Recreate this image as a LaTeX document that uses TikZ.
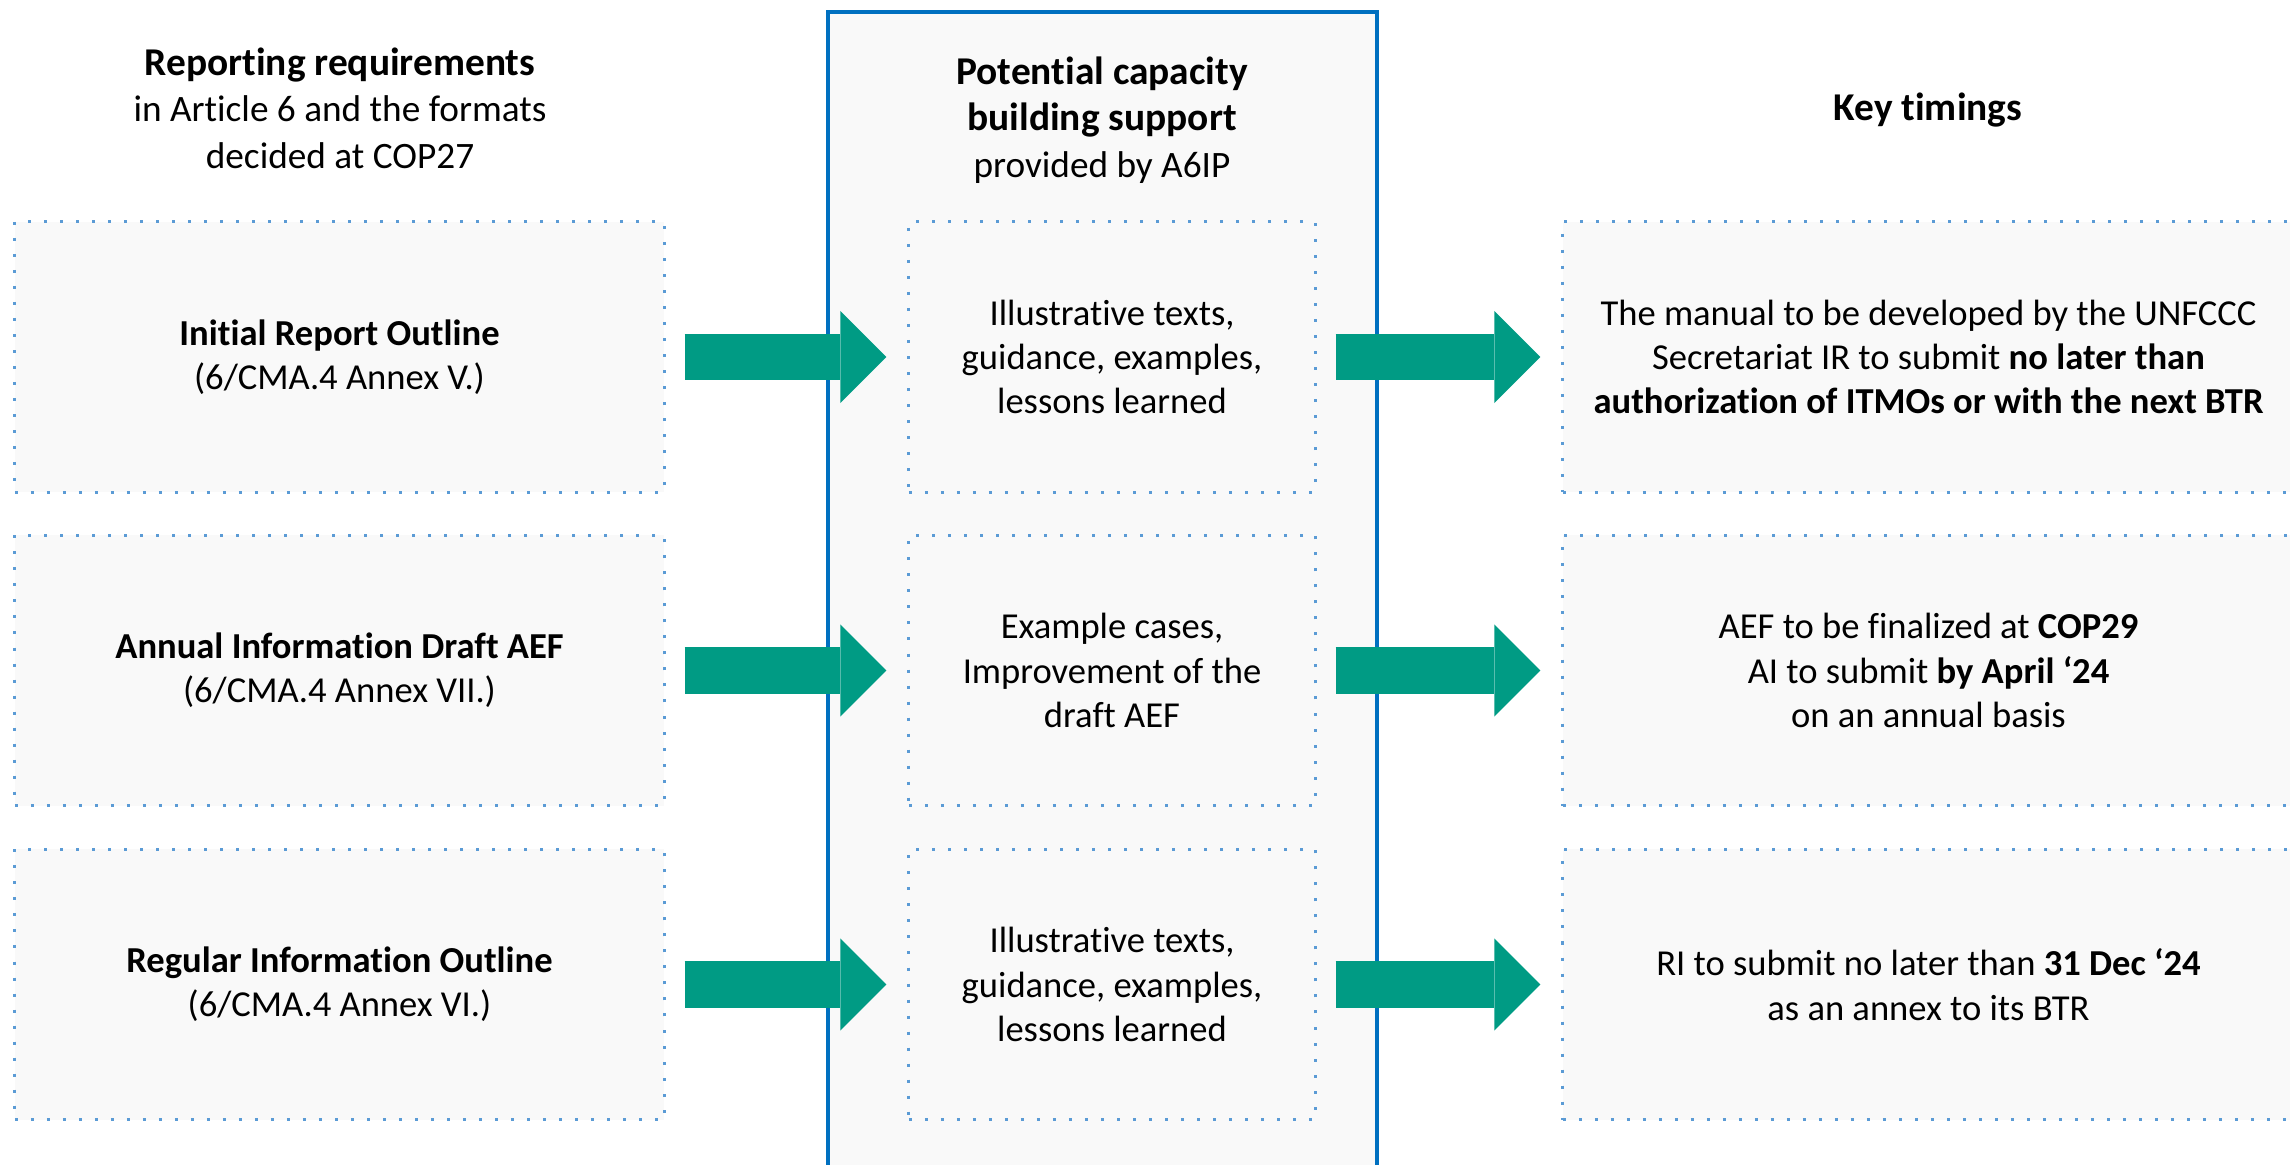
\documentclass[tikz,border=0pt]{standalone}
\usepackage{fontspec}
\setmainfont{Carlito}[Ligatures={TeX,NoCommon}]
\usetikzlibrary{arrows.meta}

\definecolor{dotblue}{HTML}{5B9BD5}
\definecolor{colblue}{HTML}{0070C0}
\definecolor{boxgray}{HTML}{F9F9F9}
\definecolor{arrowgreen}{HTML}{009B84}

\tikzset{
  dotbox/.style={draw=dotblue, fill=boxgray, line width=0.03cm,
    dash pattern=on 0.03cm off 0.13cm, minimum height=2.70cm,
    inner sep=0pt, align=center, font=\fontsize{10.4}{12.6}\selectfont},
  leftbox/.style={dotbox, minimum width=6.49cm},
  midbox/.style={dotbox, minimum width=4.06cm},
  rightbox/.style={dotbox, minimum width=7.31cm},
  header/.style={align=center, font=\fontsize{10.6}{13.2}\selectfont},
  flow/.style={arrowgreen, line width=0.46cm,
    -{Triangle[length=0.46cm, width=0.92cm, line width=0pt]},
    shorten <=0.19cm, shorten >=0.21cm}
}
\newcommand{\headtitle}[1]{{\fontsize{11.2}{13.2}\selectfont\bfseries #1}}

\begin{document}
\begin{tikzpicture}[x=0.01cm, y=-0.01cm]
  \useasboundingbox (0,0) rectangle (2290,1165);

  % 1. The support column behind the middle boxes
  \draw[colblue, fill=boxgray, line width=0.033cm] (828,12) rectangle (1377,1190);

  % 2. Column headers
  \node[header] (hleft) at (340,108)
    {\headtitle{Reporting requirements}\\in Article 6 and the formats\\decided at COP27};
  \node[header] (hmid) at (1102,120)
    {\headtitle{Potential capacity}\\\headtitle{building support}\\provided by A6IP};
  \node[header] (hright) at (1928,110) {\headtitle{Key timings}};

  % 3. Reporting requirements
  \node[leftbox] (l1) at (339.5,357)
    {\textbf{Initial Report Outline}\\(6/CMA.4 Annex V.)};
  \node[leftbox] (l2) at (339.5,670.5)
    {\textbf{Annual Information Draft AEF}\\(6/CMA.4 Annex VII.)};
  \node[leftbox] (l3) at (339.5,984.5)
    {\textbf{Regular Information Outline}\\(6/CMA.4 Annex VI.)};

  % 4. Capacity building support
  \node[midbox] (m1) at (1112,357)
    {Illustrative texts,\\guidance, examples,\\lessons learned};
  \node[midbox] (m2) at (1112,670.5)
    {Example cases,\\Improvement of the\\draft AEF};
  \node[midbox] (m3) at (1112,984.5)
    {Illustrative texts,\\guidance, examples,\\lessons learned};

  % 5. Key timings
  \node[rightbox] (r1) at (1928.5,357)
    {The manual to be developed by the UNFCCC\\
     Secretariat IR to submit \textbf{no later than}\\
     \textbf{authorization of ITMOs or with the next BTR}};
  \node[rightbox] (r2) at (1928.5,670.5)
    {AEF to be finalized at \textbf{COP29}\\
     AI to submit \textbf{by April ‘24}\\
     on an annual basis};
  \node[rightbox] (r3) at (1928.5,984.5)
    {RI to submit no later than \textbf{31 Dec ‘24}\\
     as an annex to its BTR};

  % 6. Arrows from column to column
  \draw[flow] (l1) -- (m1);
  \draw[flow] (l2) -- (m2);
  \draw[flow] (l3) -- (m3);
  \draw[flow] (m1) -- (r1);
  \draw[flow] (m2) -- (r2);
  \draw[flow] (m3) -- (r3);
\end{tikzpicture}
\end{document}
